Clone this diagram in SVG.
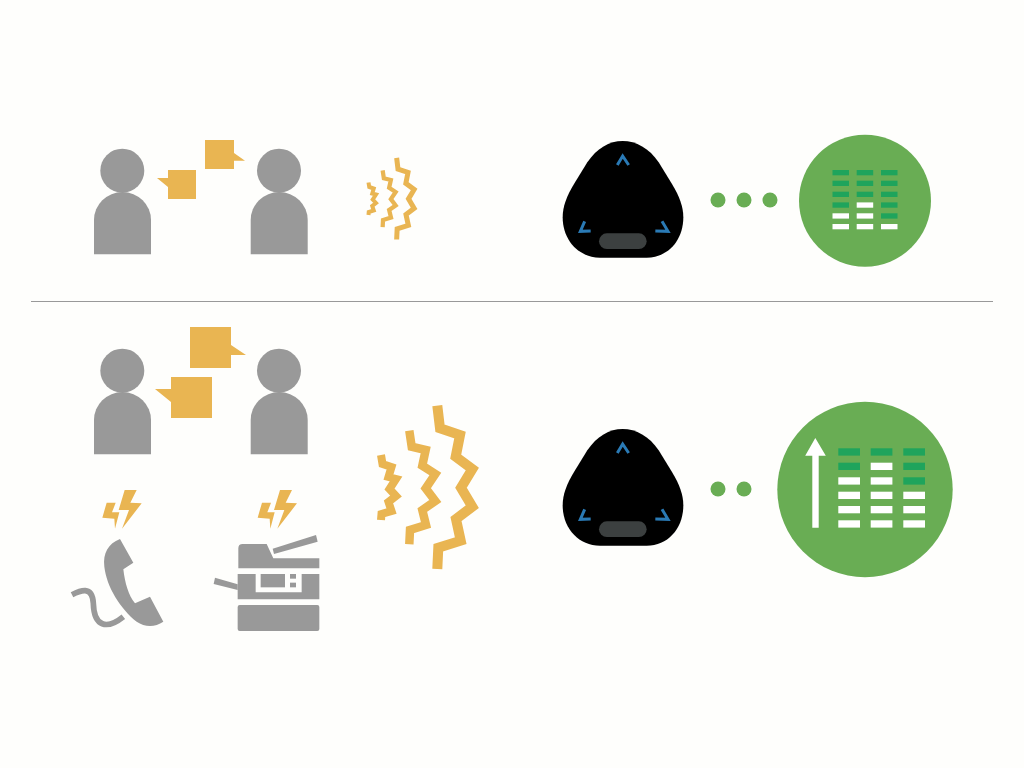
<svg xmlns="http://www.w3.org/2000/svg" width="1024" height="768" viewBox="0 0 1024 768">
<style>
.gray{fill:#999999}
.amber{fill:#e9b552}
.green{fill:#69ad54}
.off{fill:#1fa45c}
.on{fill:#ffffff}
.wave{fill:none;stroke:#e9b552;stroke-linejoin:miter}
.blue{fill:none;stroke:#2a7ab5;stroke-width:9;stroke-linejoin:miter}
</style>
<defs>
<g id="person">
<circle cx="28.300" cy="21.700" r="22" class="gray"/>
<path class="gray" d="M0 105.300V71a28.500 28 0 0 1 57 0V105.300Z"/>
</g>
<g id="device">
<path fill="#000" d="M218 33C178 33 140 55 112 97L72 162C50 198 38 230 38 262C38 330 85 383 150 383H290C355 383 400 330 400 262C400 230 388 198 366 162L326 97C298 55 258 33 218 33Z"/>
<path class="blue" d="M202 105L218 78L236 105M122 303L91 304L104 274M316 303L354 304L336 274"/>
<rect x="147" y="310" width="143" height="47" rx="23.500" fill="#3c4040"/>
</g>
<g id="bolt">
<path class="amber" d="M194 60L230 60L211 98L245 100L186 176L207 120L176 120ZM140 98L167 98L156 127L178 127L165 176L163 146L127 143Z"/>
</g>
<g id="waves">
<polyline class="wave" stroke-width="10" points="437.300,405.700 440,428.300 460,435 455.700,456.700 472.300,469 461,487.700 472.300,506.700 456,519 460.700,540.700 438.300,547.700 437.300,569"/>
<polyline class="wave" stroke-width="8.500" points="409.300,430.700 411.700,446.700 425.700,450 422.300,465.700 435.300,474 425.700,488.300 435.300,501 422.300,510 426,525 410,530 409.300,544.300"/>
<polyline class="wave" stroke-width="8" points="381,455 382.500,464 391.500,467 388.500,477 396,479 389.500,489 396,496 388.500,502 391.500,511 381.500,514 381,520"/>
</g>
</defs>
<rect width="1024" height="768" fill="#fefefc"/>
<g id="connectors">
<rect x="31" y="301" width="962" height="1" fill="#999999"/>
</g>
<g id="person-top-left"><use href="#person" x="94" y="149"/></g>
<g id="person-top-right"><use href="#person" x="250.700" y="149"/></g>
<g id="bubbles-top">
<path class="amber" d="M168 170H196V199H168V187L157 178H168Z"/>
<path class="amber" d="M205 140H234V153L245 160.700H234V169H205Z"/>
</g>
<g id="waves-top"><use href="#waves" transform="translate(178,-45) scale(.5)"/></g>
<g id="device-top"><use href="#device" transform="translate(550,130) scale(.33333)"/></g>
<g id="dots-top">
<circle cx="718" cy="200" r="7.500" class="green"/>
<circle cx="744" cy="200" r="7.500" class="green"/>
<circle cx="770" cy="200" r="7.500" class="green"/>
</g>
<g id="meter-top">
<circle cx="865" cy="200.700" r="66" class="green"/>
<g class="off">
<rect x="832.500" y="170" width="16.500" height="5.300"/><rect x="856.700" y="170" width="16.500" height="5.300"/><rect x="881" y="170" width="16.500" height="5.300"/>
<rect x="832.500" y="180.700" width="16.500" height="5.300"/><rect x="856.700" y="180.700" width="16.500" height="5.300"/><rect x="881" y="180.700" width="16.500" height="5.300"/>
<rect x="832.500" y="191.700" width="16.500" height="5.300"/><rect x="856.700" y="191.700" width="16.500" height="5.300"/><rect x="881" y="191.700" width="16.500" height="5.300"/>
<rect x="832.500" y="202.400" width="16.500" height="5.300"/><rect x="881" y="202.400" width="16.500" height="5.300"/>
<rect x="881" y="213.300" width="16.500" height="5.300"/>
</g>
<g class="on">
<rect x="856.700" y="202.400" width="16.500" height="5.300"/>
<rect x="832.500" y="213.300" width="16.500" height="5.300"/><rect x="856.700" y="213.300" width="16.500" height="5.300"/>
<rect x="832.500" y="224" width="16.500" height="5.300"/><rect x="856.700" y="224" width="16.500" height="5.300"/><rect x="881" y="224" width="16.500" height="5.300"/>
</g>
</g>
<g id="person-bottom-left"><use href="#person" x="94" y="349"/></g>
<g id="person-bottom-right"><use href="#person" x="250.700" y="349"/></g>
<g id="bubbles-bottom">
<path class="amber" d="M171 377H212V418H171V402L155 389H171Z"/>
<path class="amber" d="M190 327H231V345L246 355H231V368H190Z"/>
</g>
<g id="phone" transform="translate(60,470) scale(.33333)">
<use href="#bolt"/>
<path class="gray" d="M180 207L220 278L190 298C195 340 205 375 225 400L270 380L310 455C285 472 255 472 230 455C180 415 140 350 133 290C128 250 145 220 180 207Z"/>
<path fill="none" stroke="#999999" stroke-width="17" d="M36 374C60 362 97 345 100 400C102 470 140 480 190 440"/>
</g>
<g id="copier" transform="translate(60,470) scale(.33333)">
<use href="#bolt" x="466"/>
<path class="gray" d="M535 235Q535 222 548 222H620L640 265H778V295H535Z"/>
<path class="gray" d="M638 236L768 195L773 215L642 252Z"/>
<path class="gray" d="M533 312H587V367H725V312H778V388H533Z"/>
<rect class="gray" x="602" y="312" width="73" height="40"/>
<rect class="gray" x="690" y="312" width="18" height="14"/>
<rect class="gray" x="690" y="338" width="18" height="14"/>
<path class="gray" d="M465 323L533 343V360L461 342Z"/>
<rect class="gray" x="533" y="405" width="245" height="78" rx="6"/>
</g>
<g id="waves-bottom"><use href="#waves"/></g>
<g id="device-bottom"><use href="#device" transform="translate(550,418) scale(.33333)"/></g>
<g id="dots-bottom">
<circle cx="718" cy="489" r="7.500" class="green"/>
<circle cx="744" cy="489" r="7.500" class="green"/>
</g>
<g id="meter-bottom">
<circle cx="865" cy="489.500" r="87.700" class="green"/>
<path class="on" d="M815.300 438L825.800 455.700H818.700V527.700H812.300V455.700H805.200Z"/>
<g class="off">
<rect x="838.300" y="448.300" width="21.700" height="7.300"/><rect x="870.700" y="448.300" width="21.700" height="7.300"/><rect x="903.300" y="448.300" width="21.700" height="7.300"/>
<rect x="838.300" y="462.700" width="21.700" height="7.300"/><rect x="903.300" y="462.700" width="21.700" height="7.300"/>
<rect x="903.300" y="477.300" width="21.700" height="7.300"/>
</g>
<g class="on">
<rect x="870.700" y="462.700" width="21.700" height="7.300"/>
<rect x="838.300" y="477.300" width="21.700" height="7.300"/><rect x="870.700" y="477.300" width="21.700" height="7.300"/>
<rect x="838.300" y="491.700" width="21.700" height="7.300"/><rect x="870.700" y="491.700" width="21.700" height="7.300"/><rect x="903.300" y="491.700" width="21.700" height="7.300"/>
<rect x="838.300" y="506" width="21.700" height="7.300"/><rect x="870.700" y="506" width="21.700" height="7.300"/><rect x="903.300" y="506" width="21.700" height="7.300"/>
<rect x="838.300" y="520.300" width="21.700" height="7.300"/><rect x="870.700" y="520.300" width="21.700" height="7.300"/><rect x="903.300" y="520.300" width="21.700" height="7.300"/>
</g>
</g>
</svg>
